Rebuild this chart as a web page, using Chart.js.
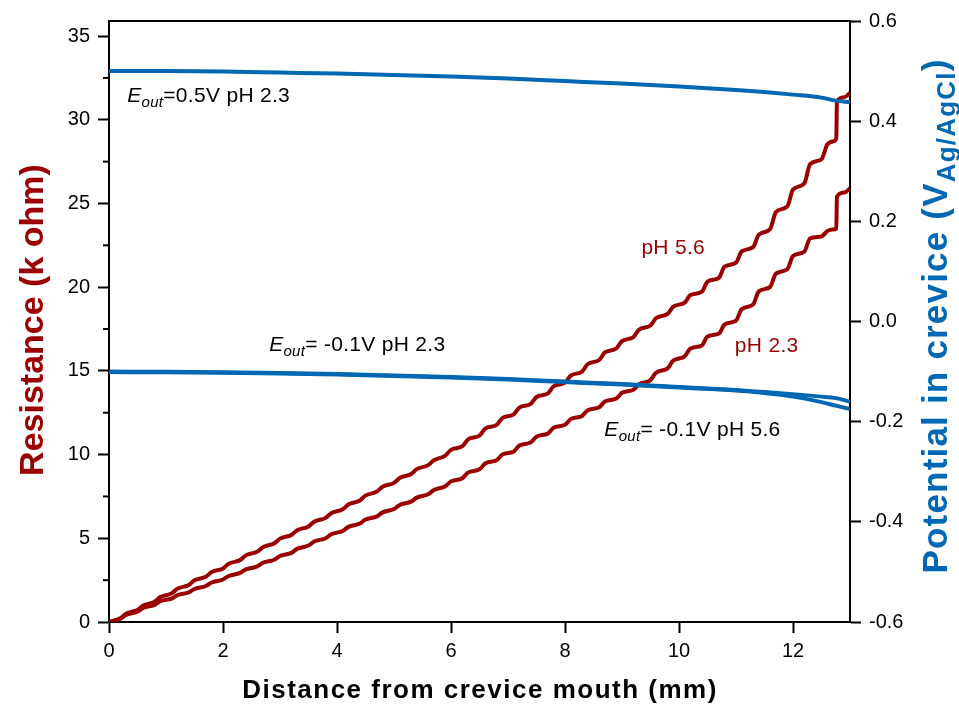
<!DOCTYPE html>
<html><head><meta charset="utf-8">
<script src="https://cdn.jsdelivr.net/npm/chart.js@4.4.0/dist/chart.umd.min.js"></script>
<style>html,body{margin:0;padding:0;background:#fff;}#wrap{width:959px;height:706px;}</style>
</head><body><div id="wrap"><canvas id="c" width="959" height="706"></canvas></div>
<script>
// ---- data ----
const distanceMm = [0,0.2,0.3,0.5,0.6,0.8,0.9,1.1,1.2,1.4,1.5,1.7,1.8,2.0,2.1,2.3,2.4,2.6,2.7,2.9,3.0,3.2,3.3,3.5,3.6,3.8,3.9,4.1,4.2,4.4,4.5,4.7,4.8,5.0,5.1,5.3,5.4,5.6,5.7,5.9,6.0,6.2,6.3,6.5,6.6,6.8,6.9,7.1,7.2,7.4,7.5,7.7,7.8,8.0,8.1,8.3,8.4,8.6,8.7,8.9,9.0,9.2,9.3,9.5,9.6,9.8,9.9,10.1,10.2,10.4,10.5,10.7,10.8,11.0,11.1,11.3,11.4,11.6,11.7,11.9,12.0,12.2,12.3,12.5,12.6,12.7,12.76,12.77,12.9,13.0];
const resistancePH56 = [0,0.22,0.50,0.72,0.99,1.21,1.49,1.71,1.99,2.21,2.49,2.71,2.98,3.20,3.48,3.70,3.98,4.20,4.47,4.70,4.98,5.20,5.48,5.71,5.99,6.22,6.50,6.73,7.02,7.26,7.55,7.79,8.08,8.31,8.60,8.84,9.13,9.37,9.66,9.94,10.28,10.50,10.91,11.13,11.55,11.77,12.18,12.40,12.81,13.03,13.44,13.66,14.08,14.30,14.72,14.96,15.41,15.65,16.10,16.34,16.78,17.02,17.47,17.71,18.16,18.40,18.84,19.08,19.53,19.73,20.33,20.56,21.23,21.46,22.14,22.39,23.14,23.48,24.49,24.83,25.83,26.21,27.35,27.64,28.51,28.70,28.90,31.10,31.35,31.60];
const resistancePH23 = [0,0.19,0.42,0.61,0.84,1.02,1.24,1.40,1.60,1.77,1.97,2.15,2.36,2.54,2.75,2.93,3.14,3.32,3.54,3.72,3.94,4.13,4.37,4.57,4.81,5.00,5.24,5.44,5.68,5.88,6.12,6.31,6.55,6.75,6.99,7.19,7.43,7.63,7.88,8.11,8.40,8.59,8.93,9.12,9.47,9.66,10.00,10.19,10.54,10.73,11.07,11.26,11.60,11.78,12.12,12.31,12.65,12.83,13.17,13.35,13.69,13.87,14.21,14.45,14.90,15.15,15.62,15.87,16.34,16.52,17.05,17.23,17.77,18.00,18.69,18.96,19.75,20.02,20.81,21.07,21.86,22.13,22.92,23.03,23.35,23.45,23.50,25.40,25.65,25.90];

const potDistanceMm = [0,1,2,3,4,5,6,7,8,9,10,11,11.5,12,12.5,12.75,13];
const potential05VpH23 = [0.500,0.500,0.499,0.497,0.495,0.492,0.489,0.485,0.480,0.475,0.469,0.462,0.458,0.453,0.447,0.441,0.438];
const potentialM01VpH23 = [-0.100,-0.1005,-0.1015,-0.103,-0.105,-0.108,-0.111,-0.115,-0.120,-0.125,-0.131,-0.137,-0.141,-0.145,-0.150,-0.153,-0.160];
const potentialM01VpH56 = [-0.101,-0.1015,-0.1025,-0.104,-0.106,-0.109,-0.112,-0.116,-0.121,-0.126,-0.132,-0.138,-0.143,-0.150,-0.161,-0.168,-0.175];

const xTicks = [0,2,4,6,8,10,12];
const leftTicks = [0,5,10,15,20,25,30,35];
const leftMinorTicks = [2.5,7.5,12.5,17.5,22.5,27.5,32.5];
const rightTicks = [-0.6,-0.4,-0.2,0.0,0.2,0.4,0.6];

// ---- styling ----
const RED = '#9B0000';
const BLUE = '#0068B3';
const FONT = "'Liberation Sans', Arial, sans-serif";

const pts = (xs, ys) => xs.map((x, i) => ({x, y: ys[i]}));

const annotations = [
  {x: 0.32, y: 31.05, parts: [['E','italic 21px'],['out','italic 15px',5],['=0.5V pH 2.3','21px']], color:'#000'},
  {x: 2.81, y: 16.19, parts: [['E','italic 21px'],['out','italic 15px',5],['= -0.1V pH 2.3','21px']], color:'#000'},
  {x: 8.69, y: 11.11, parts: [['E','italic 21px'],['out','italic 15px',5],['= -0.1V pH 5.6','21px']], color:'#000'},
  {x: 9.34, y: 21.98, parts: [['pH 5.6','21px']], color: RED},
  {x: 10.98, y: 16.13, parts: [['pH 2.3','21px']], color: RED}
];

const extras = {
  id: 'extras',
  afterDraw(chart) {
    const ctx = chart.ctx, a = chart.chartArea;
    const xs = chart.scales.x, yl = chart.scales.yL;
    ctx.save();
    ctx.strokeStyle = '#000'; ctx.lineWidth = 2;
    ctx.beginPath(); ctx.moveTo(a.left - 1, a.top); ctx.lineTo(a.right + 1, a.top); ctx.stroke();
    leftMinorTicks.forEach(v => {
      const y = yl.getPixelForValue(v);
      ctx.beginPath(); ctx.moveTo(a.left - 6, y); ctx.lineTo(a.left, y); ctx.stroke();
    });
    try { ctx.letterSpacing = '0.3px'; } catch (e) {}
    annotations.forEach(an => {
      let px = xs.getPixelForValue(an.x), py = yl.getPixelForValue(an.y);
      ctx.fillStyle = an.color; ctx.textBaseline = 'alphabetic'; ctx.textAlign = 'left';
      an.parts.forEach(p => {
        ctx.font = p[1] + ' ' + FONT;
        ctx.fillText(p[0], px, py + (p[2] || 0));
        px += ctx.measureText(p[0]).width;
      });
    });
    try { ctx.letterSpacing = '0px'; } catch (e) {}
    const drawRot = (bx, cy, parts, color, spacing) => {
      ctx.save();
      ctx.translate(bx, cy); ctx.rotate(-Math.PI / 2);
      try { ctx.letterSpacing = spacing; } catch (e) {}
      ctx.fillStyle = color; ctx.textBaseline = 'alphabetic'; ctx.textAlign = 'left';
      let total = 0;
      parts.forEach(p => { ctx.font = p[1] + ' ' + FONT; total += ctx.measureText(p[0]).width; });
      let x = -total / 2;
      parts.forEach(p => { ctx.font = p[1] + ' ' + FONT; ctx.fillText(p[0], x, p[2] || 0); x += ctx.measureText(p[0]).width; });
      ctx.restore();
    };
    drawRot(43, 320, [['Resistance (k ohm)', 'bold 34px']], RED, '0px');
    drawRot(947, 316, [['Potential in crevice (V', 'bold 35px'], ['Ag/AgCl', 'bold 26px', 8], [')', 'bold 35px']], BLUE, '1.2px');
    ctx.fillStyle = '#000'; ctx.textAlign = 'center'; ctx.textBaseline = 'alphabetic';
    ctx.font = 'bold 26px ' + FONT;
    try { ctx.letterSpacing = '1.5px'; } catch (e) {}
    ctx.fillText('Distance from crevice mouth (mm)', 480, 698);
    try { ctx.letterSpacing = '0px'; } catch (e) {}
    ctx.restore();
  }
};

const axisCommon = {
  border: {display: true, color: '#000', width: 2},
  grid: {display: true, drawOnChartArea: false, drawTicks: true, tickLength: 11, tickWidth: 2, tickColor: '#000'},
};

new Chart(document.getElementById('c'), {
  type: 'line',
  data: {
    datasets: [
      {label: 'E_out=0.5V pH 2.3', data: pts(potDistanceMm, potential05VpH23), yAxisID: 'yR', borderColor: BLUE, borderWidth: 4, pointRadius: 0, cubicInterpolationMode: 'monotone', order: 0},
      {label: 'E_out=-0.1V pH 2.3', data: pts(potDistanceMm, potentialM01VpH23), yAxisID: 'yR', borderColor: BLUE, borderWidth: 4, pointRadius: 0, cubicInterpolationMode: 'monotone', order: 0},
      {label: 'E_out=-0.1V pH 5.6', data: pts(potDistanceMm, potentialM01VpH56), yAxisID: 'yR', borderColor: BLUE, borderWidth: 4, pointRadius: 0, cubicInterpolationMode: 'monotone', order: 0},
      {label: 'pH 5.6', data: pts(distanceMm, resistancePH56), yAxisID: 'yL', borderColor: RED, borderWidth: 4, pointRadius: 0, cubicInterpolationMode: 'monotone', order: 1},
      {label: 'pH 2.3', data: pts(distanceMm, resistancePH23), yAxisID: 'yL', borderColor: RED, borderWidth: 4, pointRadius: 0, cubicInterpolationMode: 'monotone', order: 1}
    ]
  },
  options: {
    responsive: false, animation: false, devicePixelRatio: 1,
    layout: {padding: {top: 21, left: 0, right: 0, bottom: 0}},
    plugins: {legend: {display: false}, tooltip: {enabled: false}},
    scales: {
      x: Object.assign({}, axisCommon, {
        type: 'linear', min: 0, max: 13, position: 'bottom',
        afterBuildTicks: s => { s.ticks = xTicks.map(v => ({value: v})); },
        afterFit: s => { s.height = 84; },
        ticks: {color: '#000', font: {family: FONT, size: 20}, padding: 6, maxRotation: 0, callback: v => String(v)}
      }),
      yL: Object.assign({}, axisCommon, {
        type: 'linear', min: 0, max: 35.9, position: 'left',
        afterBuildTicks: s => { s.ticks = leftTicks.map(v => ({value: v})); },
        afterFit: s => { s.width = 109; },
        ticks: {color: '#000', font: {family: FONT, size: 20}, padding: 8, callback: v => String(v)}
      }),
      yR: Object.assign({}, axisCommon, {
        type: 'linear', min: -0.6, max: 0.6, position: 'right',
        afterBuildTicks: s => { s.ticks = rightTicks.map(v => ({value: v})); },
        afterFit: s => { s.width = 109; },
        ticks: {color: '#000', font: {family: FONT, size: 20}, padding: 8, callback: v => Number(v).toFixed(1)}
      })
    }
  },
  plugins: [extras]
});
</script></body></html>
